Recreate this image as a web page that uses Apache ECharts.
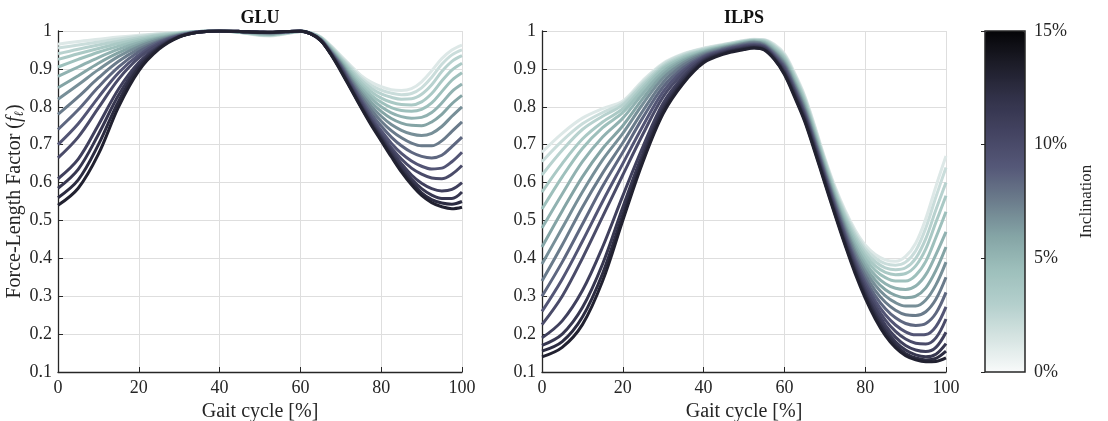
<!DOCTYPE html>
<html>
<head>
<meta charset="utf-8">
<script src="https://cdn.jsdelivr.net/npm/echarts@6/dist/echarts.min.js"></script>
<style>
html,body{margin:0;padding:0;background:#fff;}
#c{width:1108px;height:421px;}
</style>
</head>
<body>
<div id="c"></div>
<script>
// ---------- DATA ----------
const gaitPct = [0,5,10,15,20,25,30,35,40,45,50,52.5,55,57.5,60,62.5,65,67.5,70,72.5,75,77.5,80,82.5,85,87.5,90,92.5,95,97.5,100];
const inclinations = [0,1,2,3,4,5,6,7,8,9,10,11,12,13,14,15];
const cbarTicks = ['0%','5%','10%','15%'];

const glu0  = [0.965,0.972,0.978,0.984,0.989,0.993,0.997,0.999,1.0,0.996,0.988,0.987,0.990,0.995,0.999,0.996,0.985,0.962,0.935,0.908,0.883,0.865,0.853,0.845,0.843,0.848,0.866,0.895,0.927,0.950,0.963];
const glu1  = [0.955,0.963,0.971,0.979,0.986,0.992,0.996,0.999,1.0,0.996,0.989,0.988,0.991,0.995,0.999,0.995,0.984,0.960,0.932,0.904,0.877,0.857,0.844,0.836,0.832,0.835,0.850,0.878,0.912,0.937,0.950];
const glu2  = [0.940,0.952,0.963,0.973,0.982,0.990,0.995,0.999,1.0,0.997,0.990,0.989,0.992,0.996,0.999,0.995,0.983,0.958,0.929,0.899,0.871,0.849,0.834,0.825,0.820,0.821,0.833,0.858,0.893,0.920,0.935];
const glu3  = [0.925,0.940,0.954,0.967,0.978,0.988,0.994,0.999,1.0,0.997,0.991,0.990,0.993,0.996,0.999,0.995,0.982,0.956,0.926,0.894,0.864,0.840,0.823,0.812,0.806,0.805,0.813,0.835,0.868,0.897,0.915];
const glu4  = [0.905,0.925,0.944,0.960,0.974,0.985,0.993,0.999,1.0,0.997,0.992,0.991,0.994,0.997,1.000,0.995,0.981,0.954,0.923,0.889,0.857,0.831,0.812,0.798,0.790,0.788,0.793,0.810,0.840,0.870,0.890];
const glu5  = [0.880,0.905,0.930,0.952,0.969,0.982,0.992,0.999,1.0,0.998,0.993,0.992,0.995,0.997,1.000,0.994,0.980,0.952,0.920,0.884,0.850,0.822,0.800,0.784,0.774,0.770,0.772,0.785,0.810,0.840,0.860];
const glu6  = [0.850,0.882,0.915,0.943,0.964,0.980,0.991,0.999,1.0,0.998,0.994,0.993,0.995,0.998,1.000,0.994,0.979,0.950,0.917,0.879,0.843,0.812,0.788,0.769,0.757,0.751,0.750,0.760,0.780,0.808,0.830];
const glu7  = [0.820,0.858,0.898,0.933,0.959,0.977,0.990,0.998,1.0,0.998,0.995,0.994,0.996,0.998,1.000,0.994,0.978,0.948,0.914,0.874,0.836,0.802,0.775,0.753,0.738,0.728,0.724,0.730,0.748,0.775,0.800];
const glu8  = [0.780,0.826,0.876,0.920,0.952,0.974,0.989,0.998,1.0,0.999,0.996,0.995,0.997,0.998,1.000,0.994,0.978,0.946,0.911,0.869,0.829,0.792,0.762,0.737,0.718,0.704,0.697,0.697,0.710,0.735,0.760];
const glu9  = [0.740,0.792,0.852,0.905,0.945,0.971,0.988,0.998,1.0,0.999,0.997,0.996,0.997,0.999,1.000,0.993,0.977,0.944,0.908,0.864,0.822,0.782,0.749,0.720,0.697,0.680,0.669,0.665,0.672,0.695,0.720];
const glu10 = [0.700,0.755,0.825,0.890,0.937,0.968,0.987,0.998,1.0,0.999,0.997,0.996,0.997,0.999,1.000,0.993,0.977,0.943,0.905,0.860,0.816,0.773,0.737,0.704,0.677,0.657,0.643,0.636,0.638,0.655,0.680];
const glu11 = [0.665,0.720,0.797,0.873,0.929,0.964,0.986,0.998,1.0,0.999,0.997,0.996,0.997,0.999,1.000,0.993,0.976,0.942,0.903,0.856,0.811,0.766,0.728,0.692,0.662,0.638,0.622,0.612,0.610,0.622,0.645];
const glu12 = [0.610,0.662,0.752,0.847,0.917,0.960,0.985,0.997,1.0,0.999,0.997,0.997,0.998,0.999,1.000,0.993,0.976,0.941,0.900,0.852,0.806,0.762,0.722,0.684,0.650,0.620,0.598,0.584,0.578,0.582,0.600];
const glu13 = [0.585,0.635,0.727,0.831,0.910,0.957,0.985,0.997,1.0,0.999,0.997,0.997,0.998,0.999,1.000,0.993,0.975,0.940,0.898,0.850,0.803,0.758,0.718,0.678,0.641,0.609,0.584,0.567,0.558,0.558,0.575];
const glu14 = [0.560,0.607,0.700,0.815,0.903,0.955,0.985,0.997,1.0,0.999,0.997,0.997,0.998,0.999,1.000,0.993,0.975,0.940,0.896,0.848,0.800,0.755,0.714,0.672,0.633,0.600,0.573,0.555,0.546,0.543,0.550];
const glu15 = [0.540,0.585,0.675,0.800,0.895,0.952,0.984,0.997,1.0,0.999,0.997,0.997,0.998,0.999,1.000,0.993,0.975,0.939,0.894,0.846,0.798,0.752,0.710,0.668,0.628,0.594,0.566,0.547,0.536,0.531,0.535];

const ilps0  = [0.680,0.730,0.770,0.795,0.815,0.870,0.915,0.940,0.955,0.965,0.975,0.978,0.977,0.965,0.940,0.890,0.830,0.750,0.665,0.590,0.527,0.475,0.435,0.410,0.396,0.392,0.405,0.440,0.505,0.590,0.670];
const ilps1  = [0.655,0.710,0.755,0.785,0.810,0.865,0.912,0.938,0.953,0.964,0.974,0.977,0.976,0.962,0.937,0.886,0.826,0.746,0.661,0.585,0.521,0.468,0.427,0.401,0.386,0.382,0.390,0.420,0.480,0.562,0.640];
const ilps2  = [0.620,0.685,0.740,0.775,0.805,0.860,0.908,0.935,0.951,0.963,0.973,0.976,0.975,0.959,0.933,0.882,0.821,0.741,0.657,0.580,0.515,0.461,0.419,0.391,0.375,0.370,0.375,0.400,0.452,0.528,0.600];
const ilps3  = [0.575,0.650,0.715,0.760,0.795,0.853,0.904,0.932,0.949,0.961,0.972,0.975,0.973,0.956,0.930,0.878,0.817,0.737,0.653,0.575,0.509,0.453,0.410,0.380,0.363,0.357,0.360,0.380,0.425,0.495,0.565];
const ilps4  = [0.530,0.615,0.690,0.745,0.785,0.845,0.900,0.929,0.947,0.960,0.971,0.974,0.971,0.953,0.926,0.873,0.812,0.732,0.648,0.570,0.502,0.445,0.400,0.368,0.349,0.340,0.340,0.355,0.392,0.455,0.523];
const ilps5  = [0.480,0.570,0.655,0.720,0.770,0.835,0.893,0.925,0.945,0.958,0.970,0.973,0.969,0.950,0.922,0.868,0.807,0.727,0.643,0.564,0.495,0.436,0.389,0.355,0.333,0.321,0.318,0.327,0.357,0.410,0.470];
const ilps6  = [0.430,0.525,0.615,0.690,0.750,0.822,0.885,0.921,0.943,0.957,0.968,0.971,0.967,0.947,0.918,0.864,0.802,0.722,0.638,0.559,0.488,0.427,0.378,0.342,0.317,0.302,0.296,0.300,0.322,0.368,0.430];
const ilps7  = [0.385,0.480,0.575,0.660,0.730,0.808,0.876,0.916,0.940,0.955,0.967,0.970,0.965,0.944,0.914,0.859,0.797,0.717,0.633,0.553,0.481,0.418,0.367,0.329,0.301,0.283,0.274,0.274,0.290,0.330,0.390];
const ilps8  = [0.340,0.435,0.535,0.625,0.705,0.790,0.865,0.910,0.937,0.953,0.965,0.968,0.963,0.941,0.910,0.855,0.792,0.712,0.628,0.548,0.474,0.409,0.356,0.315,0.284,0.263,0.251,0.249,0.259,0.292,0.350];
const ilps9  = [0.300,0.390,0.490,0.590,0.680,0.772,0.853,0.903,0.934,0.951,0.963,0.966,0.961,0.938,0.906,0.850,0.787,0.707,0.623,0.542,0.467,0.400,0.345,0.301,0.267,0.243,0.228,0.223,0.228,0.255,0.310];
const ilps10 = [0.260,0.345,0.445,0.550,0.650,0.750,0.840,0.896,0.931,0.949,0.961,0.964,0.959,0.935,0.902,0.846,0.782,0.702,0.618,0.537,0.461,0.392,0.335,0.288,0.251,0.224,0.206,0.198,0.199,0.220,0.272];
const ilps11 = [0.225,0.300,0.400,0.510,0.620,0.728,0.827,0.889,0.928,0.947,0.959,0.962,0.957,0.932,0.898,0.842,0.778,0.698,0.614,0.532,0.455,0.385,0.326,0.277,0.237,0.207,0.187,0.176,0.174,0.190,0.240];
const ilps12 = [0.190,0.235,0.315,0.430,0.565,0.695,0.810,0.880,0.925,0.945,0.957,0.960,0.955,0.930,0.894,0.838,0.774,0.694,0.610,0.527,0.449,0.378,0.317,0.266,0.224,0.192,0.170,0.158,0.154,0.165,0.205];
const ilps13 = [0.170,0.200,0.270,0.385,0.535,0.678,0.798,0.873,0.922,0.943,0.955,0.958,0.953,0.928,0.891,0.834,0.770,0.690,0.606,0.523,0.444,0.372,0.309,0.256,0.213,0.180,0.158,0.145,0.140,0.147,0.175];
const ilps14 = [0.155,0.180,0.245,0.360,0.515,0.665,0.790,0.867,0.919,0.941,0.953,0.956,0.951,0.926,0.888,0.830,0.766,0.686,0.602,0.519,0.439,0.366,0.302,0.248,0.204,0.171,0.149,0.137,0.132,0.136,0.155];
const ilps15 = [0.140,0.165,0.225,0.340,0.500,0.655,0.782,0.862,0.916,0.939,0.951,0.955,0.950,0.925,0.885,0.826,0.762,0.682,0.598,0.515,0.435,0.360,0.295,0.240,0.196,0.164,0.143,0.132,0.127,0.128,0.137];

const gluSeries  = [glu0,glu1,glu2,glu3,glu4,glu5,glu6,glu7,glu8,glu9,glu10,glu11,glu12,glu13,glu14,glu15];
const ilpsSeries = [ilps0,ilps1,ilps2,ilps3,ilps4,ilps5,ilps6,ilps7,ilps8,ilps9,ilps10,ilps11,ilps12,ilps13,ilps14,ilps15];

// ---------- STYLE ----------
const cmap = ['#f8fafa','#d6e4e2','#b3cfcc','#9dbfbb','#84a4a5','#6c7d8c','#555878','#444462','#32324a','#1d1d29','#050507'];
function hex(c){return [parseInt(c.substr(1,2),16),parseInt(c.substr(3,2),16),parseInt(c.substr(5,2),16)];}
function colorAt(t){
  t=Math.max(0,Math.min(1,t));
  const p=t*(cmap.length-1), k=Math.min(Math.floor(p),cmap.length-2), f=p-k;
  const a=hex(cmap[k]), b=hex(cmap[k+1]);
  return 'rgb('+a.map((v,j)=>Math.round(v+(b[j]-v)*f)).join(',')+')';
}
const FONT='Liberation Serif';
const TXT='#262626';

const chart = echarts.init(document.getElementById('c'), null, {renderer:'canvas'});
const series=[];
function addLines(arrs, gi){
  arrs.forEach((arr,i)=>{
    const t = 0.08 + 0.80*inclinations[i]/15;
    series.push({
      type:'line', xAxisIndex:gi, yAxisIndex:gi, smooth:0.35, showSymbol:false, symbol:'none',
      silent:true, animation:false,
      lineStyle:{width:3, color:colorAt(t)},
      data: gaitPct.map((x,k)=>[x,arr[k]])
    });
  });
}
addLines(gluSeries,0);
addLines(ilpsSeries,1);
// dummy series tied to the colour bar
series.push({type:'scatter', xAxisIndex:2, yAxisIndex:2, data:[], silent:true});

function xAx(gi){
  return {type:'value', gridIndex:gi, min:0, max:100, interval:20,
    axisLine:{show:true, lineStyle:{color:TXT,width:1.3}},
    axisTick:{show:true, inside:true, length:5, lineStyle:{color:TXT}},
    axisLabel:{color:TXT, fontSize:18, fontFamily:FONT, margin:7},
    splitLine:{show:true, lineStyle:{color:'#dedede', width:1}},
    name:'Gait cycle [%]', nameLocation:'middle', nameGap:26,
    nameTextStyle:{color:TXT, fontSize:20, fontFamily:FONT}};
}
function yAx(gi, withName){
  const o={type:'value', gridIndex:gi, min:0.1, max:1, interval:0.1,
    axisLine:{show:true, lineStyle:{color:TXT,width:1.3}},
    axisTick:{show:true, inside:true, length:5, lineStyle:{color:TXT}},
    axisLabel:{color:TXT, fontSize:18, fontFamily:FONT, margin:6,
      formatter:v=>{const r=Math.round(v*10)/10; return r===1?'1':r.toFixed(1);}},
    splitLine:{show:true, lineStyle:{color:'#dedede', width:1}}};
  if(withName){
    o.name='Force-Length Factor ({i|f}{s|ℓ})';
    o.nameLocation='middle'; o.nameGap=31;
    o.nameTextStyle={color:TXT, fontSize:20, fontFamily:FONT,
      rich:{i:{fontStyle:'italic', fontSize:20, fontFamily:FONT, color:TXT},
            s:{fontStyle:'italic', fontSize:13, fontFamily:FONT, color:TXT, padding:[8,0,0,0]}}};
  }
  return o;
}

const option = {
  backgroundColor:'#ffffff',
  animation:false,
  title:[
    {text:'GLU', left:260, top:9, textAlign:'center', padding:0,
     textStyle:{fontFamily:FONT, fontWeight:'bold', fontSize:18, color:'#111'}},
    {text:'ILPS', left:744, top:9, textAlign:'center', padding:0,
     textStyle:{fontFamily:FONT, fontWeight:'bold', fontSize:18, color:'#111'}}
  ],
  grid:[
    {left:58, top:31, width:404, height:341, outerBoundsMode:'none', containLabel:false},
    {left:542, top:31, width:404, height:341, outerBoundsMode:'none', containLabel:false},
    {left:985, top:31, width:40, height:341, outerBoundsMode:'none', containLabel:false,
     show:true, z:10, borderColor:'#262626', borderWidth:1.5, backgroundColor:'transparent'}
  ],
  xAxis:[xAx(0), xAx(1),
    {type:'value', gridIndex:2, min:0, max:1, show:false}],
  yAxis:[yAx(0,true), yAx(1,false),
    {type:'value', gridIndex:2, min:0, max:15, interval:5, position:'right', z:10,
     axisLine:{show:false},
     axisTick:{show:true, inside:true, length:4, lineStyle:{color:'#262626'}},
     axisLabel:{color:TXT, fontSize:18, fontFamily:FONT, margin:9,
       formatter:v=>cbarTicks[Math.round(v/5)]},
     splitLine:{show:false},
     name:'Inclination', nameLocation:'middle', nameRotate:90, nameGap:53,
     nameTextStyle:{color:TXT, fontSize:17, fontFamily:FONT}}],
  visualMap:[{
    type:'continuous', seriesIndex:[series.length-1], min:0, max:15,
    orient:'vertical', left:985, top:31, itemWidth:40, itemHeight:341,
    padding:0, calculable:false, realtime:false, hoverLink:false, text:null,
    showLabel:false, z:2,
    inRange:{color:cmap}
  }],
  series:series
};
chart.setOption(option);
</script>
</body>
</html>
